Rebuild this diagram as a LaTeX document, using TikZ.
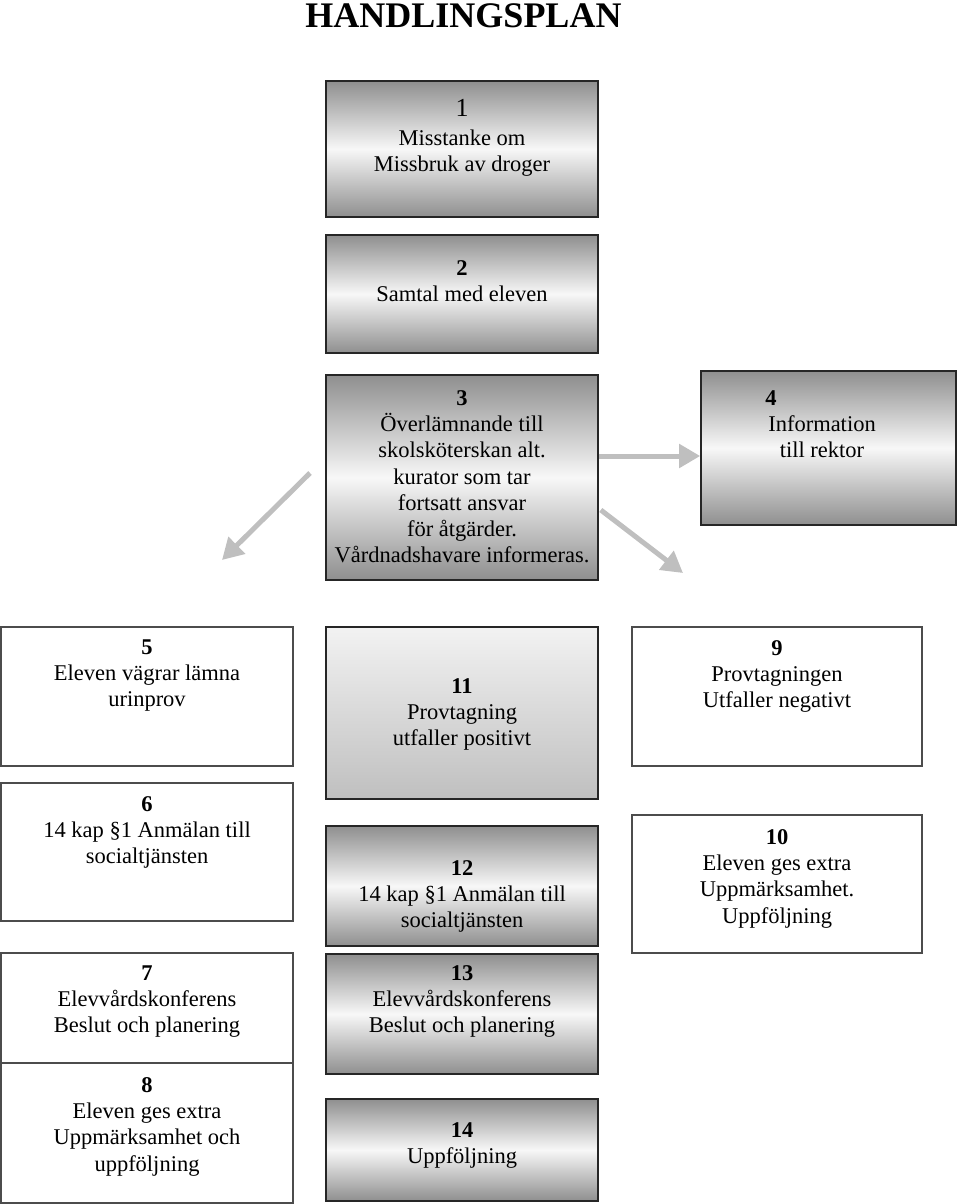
\documentclass[tikz,border=0pt]{standalone}
\usepackage{fontspec}
\setmainfont{Liberation Serif}
\usetikzlibrary{arrows.meta,calc}
\tikzset{
  gbox/.style={draw=black!85, line width=1.6pt, top color=black!44, bottom color=black!44, middle color=black!3, minimum width=272pt, inner sep=0pt},
  gboxlight/.style={draw=black!85, line width=1.6pt, top color=black!5, bottom color=black!25, minimum width=272pt, inner sep=0pt},
  wbox/.style={draw=black!70, line width=1.2pt, fill=white, inner sep=0pt},
  txt/.style={align=center, inner sep=0pt, anchor=north, font=\fontsize{22.5}{26.2}\selectfont},
  garrow/.style={draw=black!25, line width=5pt, -{Triangle[length=21pt,width=23pt]}, shorten >=0pt}
}
\begin{document}
\begin{tikzpicture}[x=1pt,y=-1pt]
\useasboundingbox (0,0) rectangle (960,1204);
% title
\node[anchor=base, inner sep=0pt, font=\fontsize{36}{40}\selectfont\bfseries] (title) at (463.5,28) {HANDLINGSPLAN};
% shaded boxes (center column)
\node[gbox, minimum height=136pt] (b1) at (462,149) {};
\node[gbox, minimum height=118pt] (b2) at (462,294) {};
\node[gbox, minimum height=205pt] (b3) at (462,477.5) {};
\node[gbox, minimum width=255pt, minimum height=154pt] (b4) at (828.5,448) {};
\node[gboxlight, minimum height=172pt] (b11) at (462,713) {};
\node[gbox, minimum height=120pt] (b12) at (462,886) {};
\node[gbox, minimum height=120pt] (b13) at (462,1014) {};
\node[gbox, minimum height=102pt] (b14) at (462,1150) {};
% white boxes
\node[wbox, minimum width=292pt, minimum height=139pt] (b5) at (147,696.5) {};
\node[wbox, minimum width=292pt, minimum height=138pt] (b6) at (147,852) {};
\node[wbox, minimum width=292pt, minimum height=110pt] (b7) at (147,1008) {};
\node[wbox, minimum width=292pt, minimum height=140pt] (b8) at (147,1133) {};
\node[wbox, minimum width=290pt, minimum height=139pt] (b9) at (777,696.5) {};
\node[wbox, minimum width=290pt, minimum height=138pt] (b10) at (777,884) {};
% texts
\node[txt] (t1) at (462,99.2) {{\fontsize{26}{26}\selectfont 1}\\[3pt]Misstanke om\\Missbruk av droger};
\node[txt] (t2) at (462,260.4) {\textbf{2}\\Samtal med eleven};
\node[txt] (t3) at (462,390.4) {\textbf{3}\\Överlämnande till\\skolsköterskan alt.\\kurator som tar\\fortsatt ansvar\\för åtgärder.\\Vårdnadshavare informeras.};
\node[txt] (t4) at (822,390.4) {\textbf{4}\hspace*{102pt}\\Information\\till rektor};
\node[txt] (t5) at (147,639.4) {\textbf{5}\\Eleven vägrar lämna\\urinprov};
\node[txt] (t6) at (147,796.4) {\textbf{6}\\14 kap §1 Anmälan till\\socialtjänsten};
\node[txt] (t7) at (147,965.4) {\textbf{7}\\Elevvårdskonferens\\Beslut och planering};
\node[txt] (t8) at (147,1077.4) {\textbf{8}\\Eleven ges extra\\Uppmärksamhet och\\uppföljning};
\node[txt] (t9) at (777,640.4) {\textbf{9}\\Provtagningen\\Utfaller negativt};
\node[txt] (t10) at (777,829.4) {\textbf{10}\\Eleven ges extra\\Uppmärksamhet.\\Uppföljning};
\node[txt] (t11) at (462,678.4) {\textbf{11}\\Provtagning\\utfaller positivt};
\node[txt] (t12) at (462,860.4) {\textbf{12}\\14 kap §1 Anmälan till\\socialtjänsten};
\node[txt] (t13) at (462,965.4) {\textbf{13}\\Elevvårdskonferens\\Beslut och planering};
\node[txt] (t14) at (462,1122.4) {\textbf{14}\\Uppföljning};
% arrows
\path ($(b3.east)+(0,-21.5)$) coordinate (a34);
\draw[garrow] (a34) -- (a34 -| b4.west);
\path ($(b3.east)+(2,32.5)$) coordinate (d1);
\coordinate (d2) at (683,573);
\draw[garrow] (d1) -- (d2);
\coordinate (l1) at (310,473);
\coordinate (l2) at (222,560);
\draw[garrow] (l1) -- (l2);
\end{tikzpicture}
\end{document}
